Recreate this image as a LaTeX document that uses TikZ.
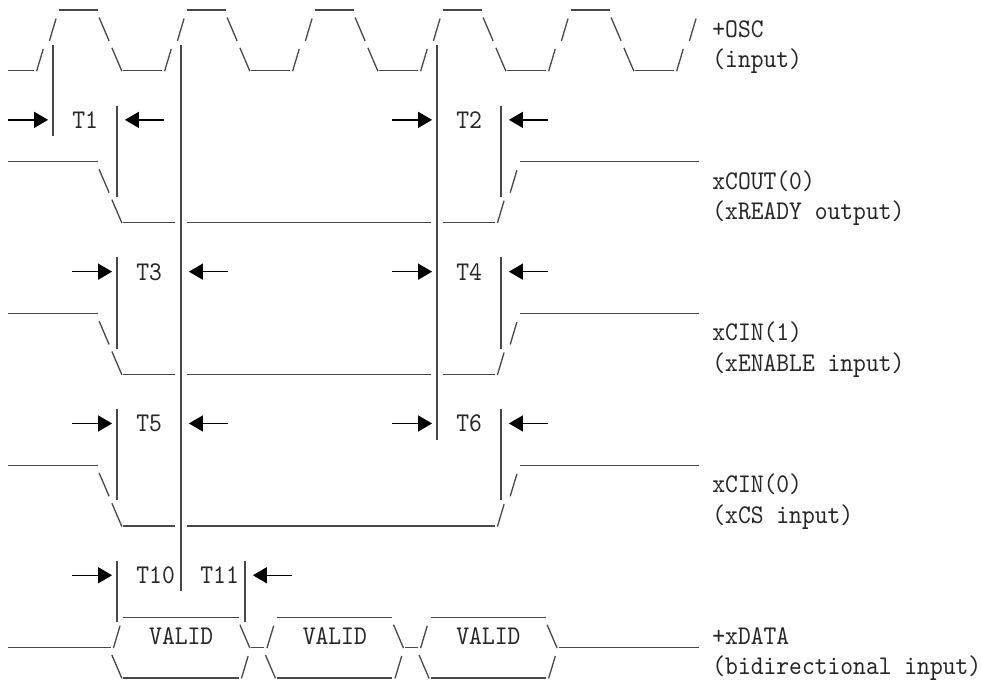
\documentclass[tikz,border=0pt]{standalone}
\usepackage{fontspec}
\newfontfamily\asciifont{lmmono10-regular}[Extension=.otf, FakeStretch=0.903]
\usetikzlibrary{arrows.meta}
\tikzset{
  ln/.style={draw=black!72, line width=1.3pt},
  arr/.style={draw=black, line width=1.4pt, -{Triangle[length=14pt,width=16pt]}},
  lbl/.style={inner sep=0pt, anchor=base west, text=black!85,
              font=\asciifont\fontsize{27}{27}\selectfont},
}
% underscore run: row, first col, last col
\newcommand\tdUL[3]{\draw[ln] ({8.2+#2*12.8},{10+#1*30.36}) -- ({8.2+(#3+1)*12.8},{10+#1*30.36});}
% slash: row, col
\newcommand\tdSL[2]{\draw[ln] ({8.2+#2*12.8+2.8},{10+#1*30.36+0.5}) -- ({8.2+#2*12.8+9.5},{10+(#1-1)*30.36+8.5});}
% backslash: row, col
\newcommand\tdBS[2]{\draw[ln] ({8.2+#2*12.8+1.3},{10+(#1-1)*30.36+7.5}) -- ({8.2+#2*12.8+11.3},{10+#1*30.36+0.5});}
% vertical bar: col, first row, last row
\newcommand\tdVB[3]{\draw[ln] ({8.2+(#1+0.5)*12.8},{14.6+(#2-1)*30.36}) -- ({8.2+(#1+0.5)*12.8},{14.6+#3*30.36});}
% arrow pointing right to bar: row, bar col
\newcommand\tdRA[2]{\draw[arr] ({8.2+(#2-3)*12.8},{14.6+(#1-0.5)*30.36-1}) -- ({8.2+#2*12.8+1.5},{14.6+(#1-0.5)*30.36-1});}
% arrow pointing left to bar: row, bar col
\newcommand\tdLA[2]{\draw[arr] ({8.2+(#2+4)*12.8+2},{14.6+(#1-0.5)*30.36-1}) -- ({8.2+(#2+1)*12.8+1.5},{14.6+(#1-0.5)*30.36-1});}
% label: name, row, col, text
\newcommand\tdTX[4]{\node[lbl] (#1) at ({8.2+#3*12.8},{6.9+#2*30.36}) {#4};}

\begin{document}
\begin{tikzpicture}[x=1pt,y=-1pt]
\useasboundingbox (0,0) rectangle (981,684);
% ---------- +OSC ----------
\tdUL{0}{4}{6}\tdUL{0}{14}{16}\tdUL{0}{24}{26}\tdUL{0}{34}{36}\tdUL{0}{44}{46}
\tdSL{1}{3}\tdSL{1}{13}\tdSL{1}{23}\tdSL{1}{33}\tdSL{1}{43}\tdSL{1}{53}
\tdBS{1}{7}\tdBS{1}{17}\tdBS{1}{27}\tdBS{1}{37}\tdBS{1}{47}
\tdUL{2}{0}{1}\tdUL{2}{9}{11}\tdUL{2}{19}{21}\tdUL{2}{29}{31}\tdUL{2}{39}{41}\tdUL{2}{49}{51}
\tdSL{2}{2}\tdSL{2}{12}\tdSL{2}{22}\tdSL{2}{32}\tdSL{2}{42}\tdSL{2}{52}
\tdBS{2}{8}\tdBS{2}{18}\tdBS{2}{28}\tdBS{2}{38}\tdBS{2}{48}
\tdTX{osc}{1}{55}{+OSC}
\tdTX{oscin}{2}{55}{(input)}
% ---------- vertical marker lines ----------
\tdVB{3}{2}{4}
\tdVB{13}{2}{19}
\tdVB{33}{2}{14}
\tdVB{8}{4}{6}\tdVB{8}{9}{11}\tdVB{8}{14}{16}\tdVB{8}{19}{20}
\tdVB{38}{4}{6}\tdVB{38}{9}{11}\tdVB{38}{14}{16}
\tdVB{18}{19}{20}
% ---------- timing arrows & labels ----------
\tdRA{4}{3}\tdLA{4}{8}\tdRA{4}{33}\tdLA{4}{38}
\tdRA{9}{8}\tdLA{9}{13}\tdRA{9}{33}\tdLA{9}{38}
\tdRA{14}{8}\tdLA{14}{13}\tdRA{14}{33}\tdLA{14}{38}
\tdRA{19}{8}\tdLA{19}{18}
\tdTX{t1}{4}{5}{T1}\tdTX{t2}{4}{35}{T2}
\tdTX{t3}{9}{10}{T3}\tdTX{t4}{9}{35}{T4}
\tdTX{t5}{14}{10}{T5}\tdTX{t6}{14}{35}{T6}
\tdTX{t10}{19}{10}{T10}\tdTX{t11}{19}{15}{T11}
% ---------- xCOUT(0) ----------
\tdUL{5}{0}{6}\tdUL{5}{40}{53}
\tdBS{6}{7}\tdSL{6}{39}
\tdBS{7}{8}\tdUL{7}{9}{12}\tdUL{7}{14}{32}\tdUL{7}{34}{37}\tdSL{7}{38}
\tdTX{cout}{6}{55}{xCOUT(0)}
\tdTX{coutd}{7}{55}{(xREADY output)}
% ---------- xCIN(1) ----------
\tdUL{10}{0}{6}\tdUL{10}{40}{53}
\tdBS{11}{7}\tdSL{11}{39}
\tdBS{12}{8}\tdUL{12}{9}{12}\tdUL{12}{14}{32}\tdUL{12}{34}{37}\tdSL{12}{38}
\tdTX{cina}{11}{55}{xCIN(1)}
\tdTX{cinad}{12}{55}{(xENABLE input)}
% ---------- xCIN(0) ----------
\tdUL{15}{0}{6}\tdUL{15}{40}{53}
\tdBS{16}{7}\tdSL{16}{39}
\tdBS{17}{8}\tdUL{17}{9}{12}\tdUL{17}{14}{37}\tdSL{17}{38}
\tdTX{cinb}{16}{55}{xCIN(0)}
\tdTX{cinbd}{17}{55}{(xCS input)}
% ---------- +xDATA ----------
\tdUL{20}{9}{17}\tdUL{20}{21}{29}\tdUL{20}{33}{41}
\tdUL{21}{0}{7}\tdSL{21}{8}\tdBS{21}{18}\tdUL{21}{19}{19}\tdSL{21}{20}
\tdBS{21}{30}\tdUL{21}{31}{31}\tdSL{21}{32}\tdBS{21}{42}\tdUL{21}{43}{53}
\tdBS{22}{8}\tdUL{22}{9}{17}\tdSL{22}{18}
\tdBS{22}{20}\tdUL{22}{21}{29}\tdSL{22}{30}
\tdBS{22}{32}\tdUL{22}{33}{41}\tdSL{22}{42}
\tdTX{va}{21}{11}{VALID}\tdTX{vb}{21}{23}{VALID}\tdTX{vc}{21}{35}{VALID}
\tdTX{data}{21}{55}{+xDATA}
\tdTX{datad}{22}{55}{(bidirectional input)}
\end{tikzpicture}
\end{document}
